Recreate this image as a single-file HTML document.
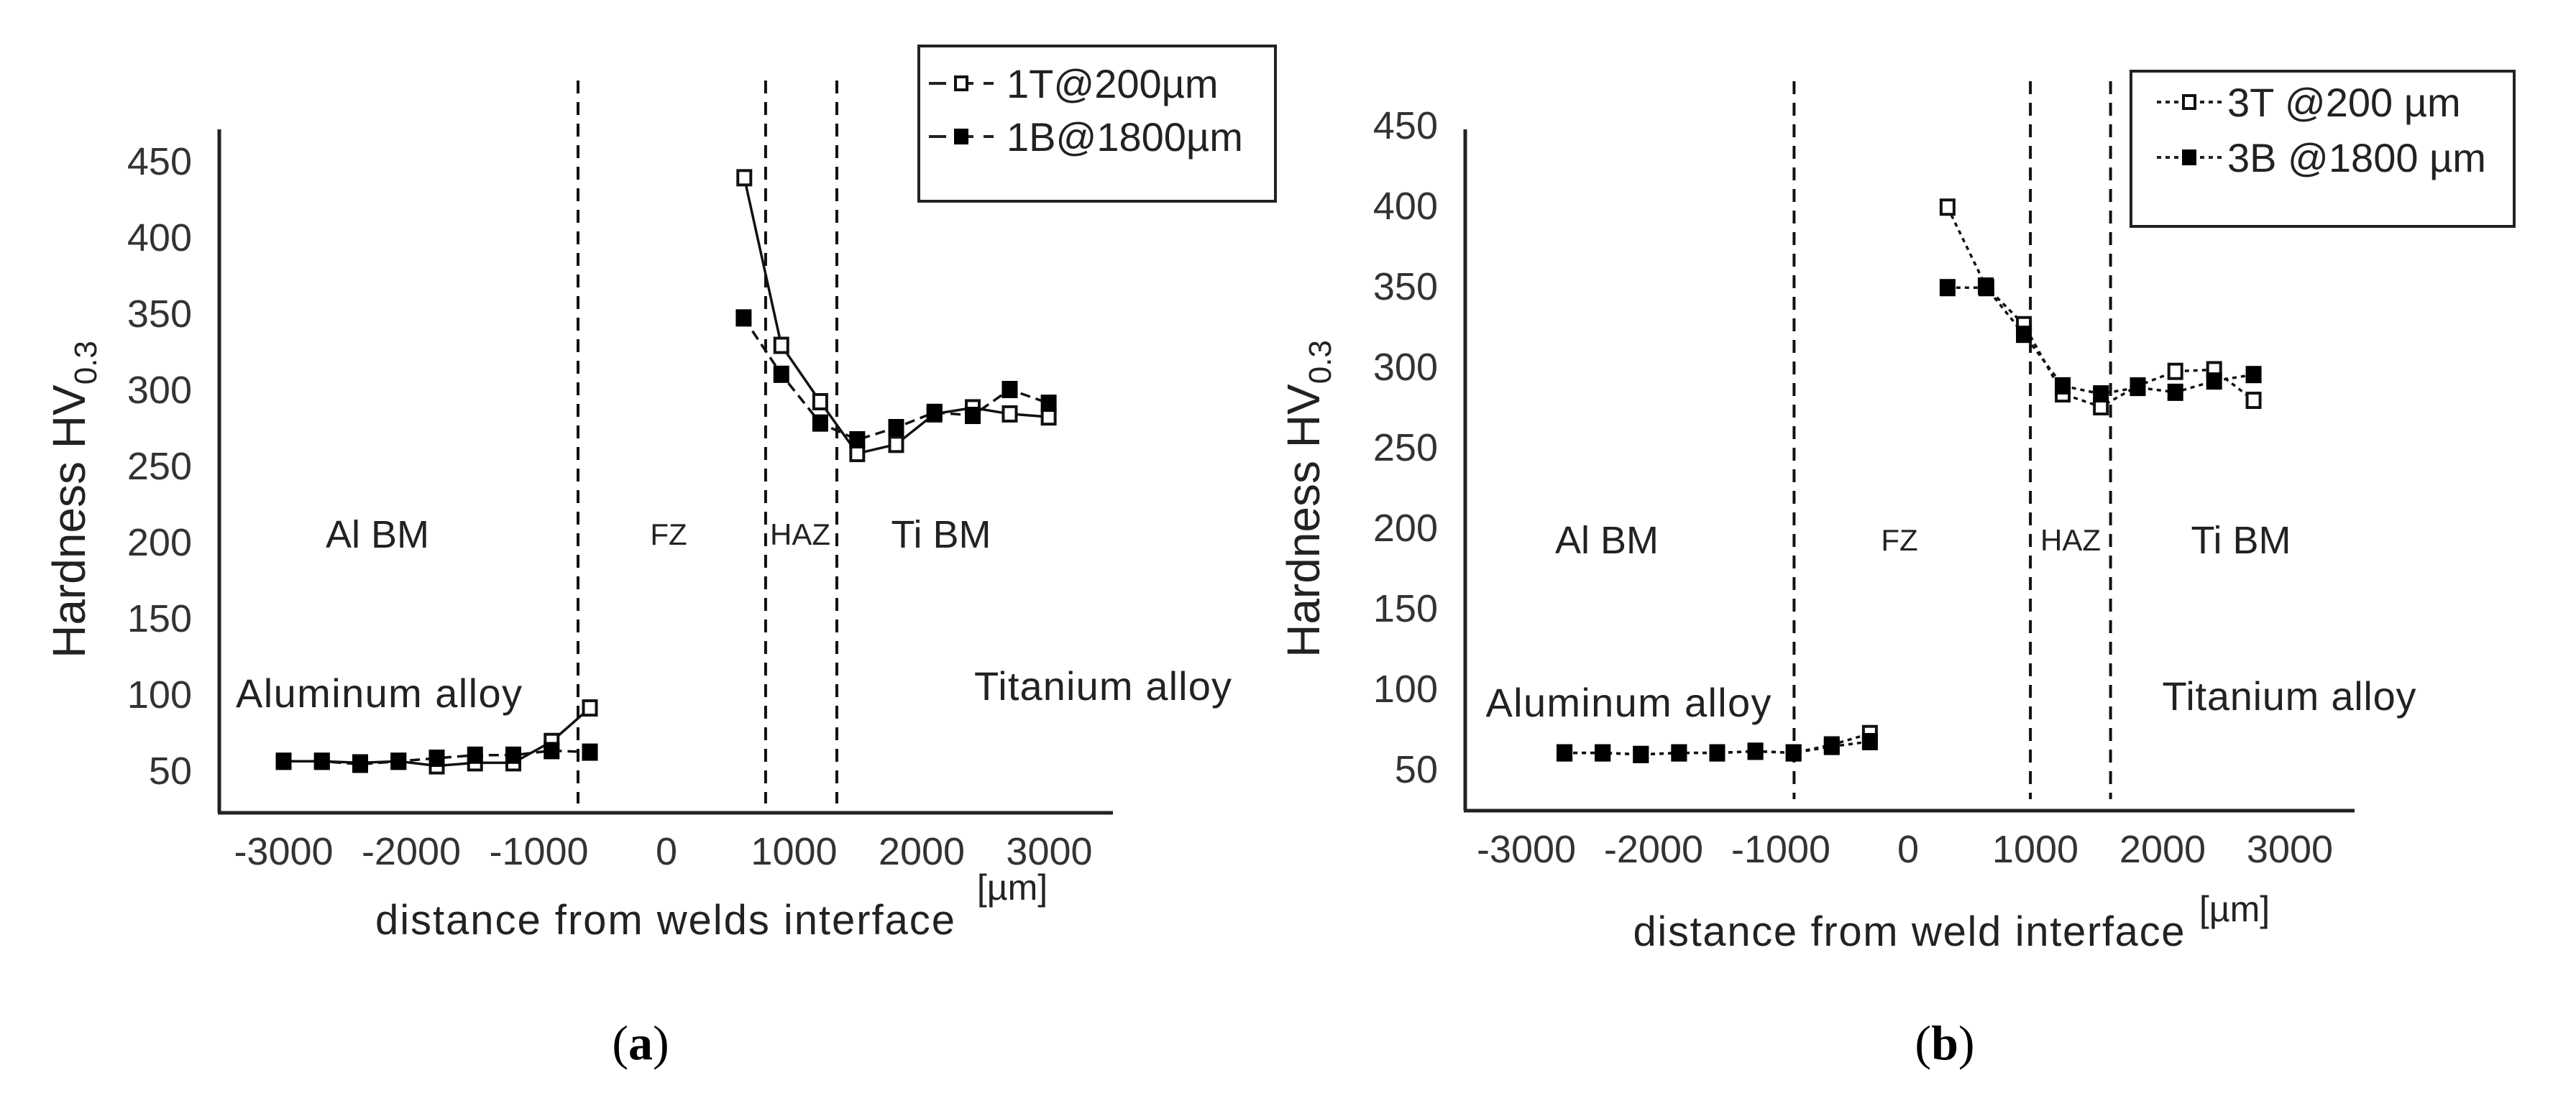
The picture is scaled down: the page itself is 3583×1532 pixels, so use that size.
<!DOCTYPE html>
<html><head><meta charset="utf-8"><style>
html,body{margin:0;padding:0;background:#fff;}
svg{display:block;font-family:"Liberation Sans",sans-serif;}
</style></head><body>
<svg id="fig" width="3583" height="1532" viewBox="0 0 3583 1532" xmlns="http://www.w3.org/2000/svg">
<rect width="3583" height="1532" fill="#fff"/>
<g id="chartA"></g>
<g id="chartB"></g>
<text x="891" y="1474" font-family="Liberation Serif,serif" font-size="68" text-anchor="middle">(<tspan font-weight="bold">a</tspan>)</text>
<text x="2705" y="1474" font-family="Liberation Serif,serif" font-size="68" text-anchor="middle">(<tspan font-weight="bold">b</tspan>)</text>
</svg>
<script>
const yTicks = [50,100,150,200,250,300,350,400,450];
const xTicks = [-3000,-2000,-1000,0,1000,2000,3000];

const aTopX = [-3000,-2700,-2400,-2100,-1800,-1500,-1200,-900,-600,610,900,1205,1495,1800,2100,2400,2690,2995];
const aTopY = [56,56,55,56,53,55,55,69,91,439,329,292,258,264,284,288,284,282];
const aBotX = [-3000,-2700,-2400,-2100,-1800,-1500,-1200,-900,-600,605,900,1205,1495,1800,2100,2400,2690,2995];
const aBotY = [56,56,54,56,58,60,60,63,62,347,310,278,267,275,285,283,300,291];
const aZones = [-693,777,1335];

const bTopX = [-2700,-2400,-2100,-1800,-1500,-1200,-900,-600,-300,310,610,910,1215,1515,1805,2100,2405,2715];
const bTopY = [60,60,59,60,60,61,60,65,72,399,350,326,283,275,288,297,298,279];
const bBotX = [-2700,-2400,-2100,-1800,-1500,-1200,-900,-600,-300,310,615,910,1215,1515,1805,2100,2405,2715];
const bBotY = [60,60,59,60,60,61,60,64,67,349,349,320,288,283,287,284,291,295];
const bZones = [-896,961,1591];

const NS = "http://www.w3.org/2000/svg";
function mk(parent, tag, attrs, text){
  const e = document.createElementNS(NS, tag);
  for (const k in attrs) e.setAttribute(k, attrs[k]);
  if (text !== undefined) e.textContent = text;
  parent.appendChild(e);
  return e;
}

function drawChart(g, cfg){
  const X = v => cfg.x0 + v*cfg.xs;
  const Y = v => cfg.y50 - (v-50)*cfg.ys;
  const ya = mk(g,'line',{x1:cfg.axL,y1:cfg.axT,x2:cfg.axL,y2:cfg.axB,stroke:'#222','stroke-width':5});
  
  
  const xa = mk(g,'line',{x1:cfg.axL-2,y1:cfg.axB,x2:cfg.axR,y2:cfg.axB,stroke:'#222','stroke-width':5});
  
  
  yTicks.forEach(t=>{
    const e = mk(g,'text',{x:cfg.axL-38,y:Y(t)+19,'font-size':54,'text-anchor':'end',fill:'#333'},String(t));
    
    
  });
  xTicks.forEach(t=>{
    const e = mk(g,'text',{x:X(t),y:cfg.axB+72,'font-size':54,'text-anchor':'middle',fill:'#333'},String(t));
    
    
  });
  cfg.zones.forEach(z=>{
    const e = mk(g,'line',{x1:X(z),y1:cfg.zT,x2:X(z),y2:cfg.zB,stroke:'#111','stroke-width':4,'stroke-dasharray':'18,12'});
    
    
  });
  cfg.labels.forEach(l=>{
    const e = mk(g,'text',{x:l[1],y:l[2],'font-size':l[3],'text-anchor':'middle',fill:'#222'},l[0]);
    
    
    if (l[4]) e.setAttribute('textLength', l[4]);
  });
  const yt = mk(g,'text',{transform:`translate(${cfg.ytX},${cfg.ytY}) rotate(-90)`,'font-size':64,'text-anchor':'middle',fill:'#222'});
  
  
  yt.innerHTML = 'Hardness HV<tspan font-size="44" dy="16">0.3</tspan>';
  const xt = mk(g,'text',{x:cfg.xtX,y:cfg.xtY,'font-size':58,'text-anchor':'middle',fill:'#222',textLength:cfg.xtL},cfg.xtText);
  
  
  const un = mk(g,'text',{x:cfg.unX,y:cfg.unY,'font-size':50,'text-anchor':'middle',fill:'#222'},'[µm]');
  
  
  const series = [[cfg.topX,cfg.topY,false,cfg.dashTop],[cfg.botX,cfg.botY,true,cfg.dashBot]];
  series.forEach(s=>{
    let segs = [[]];
    s[0].forEach((x,i)=>{
      if (i>0 && x - s[0][i-1] > 450) segs.push([]);
      segs[segs.length-1].push(X(x)+','+Y(s[1][i]));
    });
    segs.forEach(seg=>{
      const pl = mk(g,'polyline',{points:seg.join(' '),fill:'none',stroke:'#111','stroke-width':3.5,'stroke-dasharray':s[3]});
      
      
    });
  });
  series.forEach(s=>{
    s[0].forEach((x,i)=>{
      let r;
      if (s[2]) r = mk(g,'rect',{x:X(x)-11,y:Y(s[1][i])-12,width:22,height:24,fill:'#000'});
      else r = mk(g,'rect',{x:X(x)-9,y:Y(s[1][i])-10,width:18,height:20,fill:'#fff',stroke:'#111','stroke-width':4});
      
      
    });
  });
  const L = cfg.leg;
  const lb = mk(g,'rect',{x:L.x,y:L.y,width:L.w,height:L.h,fill:'#fff',stroke:'#222','stroke-width':4});
  
  
  L.rows.forEach((r,i)=>{
    const yy = L.r0 + i*L.dr;
    const ln = mk(g,'line',{x1:L.mx-45,y1:yy,x2:L.mx+45,y2:yy,stroke:'#222','stroke-width':4,'stroke-dasharray':L.dash});
    
    
    const m = i===0 ? mk(g,'rect',{x:L.mx-8,y:yy-9,width:16,height:18,fill:'#fff',stroke:'#111','stroke-width':4})
                    : mk(g,'rect',{x:L.mx-10,y:yy-11,width:20,height:22,fill:'#000'});
    
    
    const t = mk(g,'text',{x:L.tx,y:yy+20,'font-size':56,fill:'#222'},r);
    
    
  });
}

drawChart(document.getElementById('chartA'),{
  x0:927,xs:0.1775,y50:1072,ys:2.12,axL:305,axT:180,axB:1131,axR:1548,zT:112,zB:1118,
  zones:aZones,topX:aTopX,topY:aTopY,botX:aBotX,botY:aBotY,dashTop:'none',dashBot:'14,8',
  labels:[['Al BM',525,762,54],['FZ',930,758,42],['HAZ',1113,758,42],['Ti BM',1309,762,54],
          ['Aluminum alloy',527,984,56,398],['Titanium alloy',1534,974,56,358]],
  ytX:118,ytY:695,xtX:925,xtY:1300,xtL:806,xtText:'distance from welds interface',unX:1408,unY:1252,
  leg:{x:1278,y:64,w:496,h:216,mx:1337,tx:1400,r0:116,dr:74,dash:'24,14',rows:['1T@200µm','1B@1800µm']}
});
drawChart(document.getElementById('chartB'),{
  x0:2654,xs:0.177,y50:1070,ys:2.24,axL:2038,axT:180,axB:1128,axR:3275,zT:113,zB:1112,
  zones:bZones,topX:bTopX,topY:bTopY,botX:bBotX,botY:bBotY,dashTop:'6,6',dashBot:'6,6',
  labels:[['Al BM',2235,770,54],['FZ',2642,766,42],['HAZ',2880,766,42],['Ti BM',3117,770,54],
          ['Aluminum alloy',2265,997,56,397],['Titanium alloy',3184,988,56,353]],
  ytX:1835,ytY:694,xtX:2655,xtY:1316,xtL:767,xtText:'distance from weld interface',unX:3108,unY:1282,
  leg:{x:2964,y:99,w:533,h:216,mx:3045,tx:3098,r0:142,dr:77,dash:'6,6',rows:['3T @200 µm','3B @1800 µm']}
});
</script>
</body></html>
